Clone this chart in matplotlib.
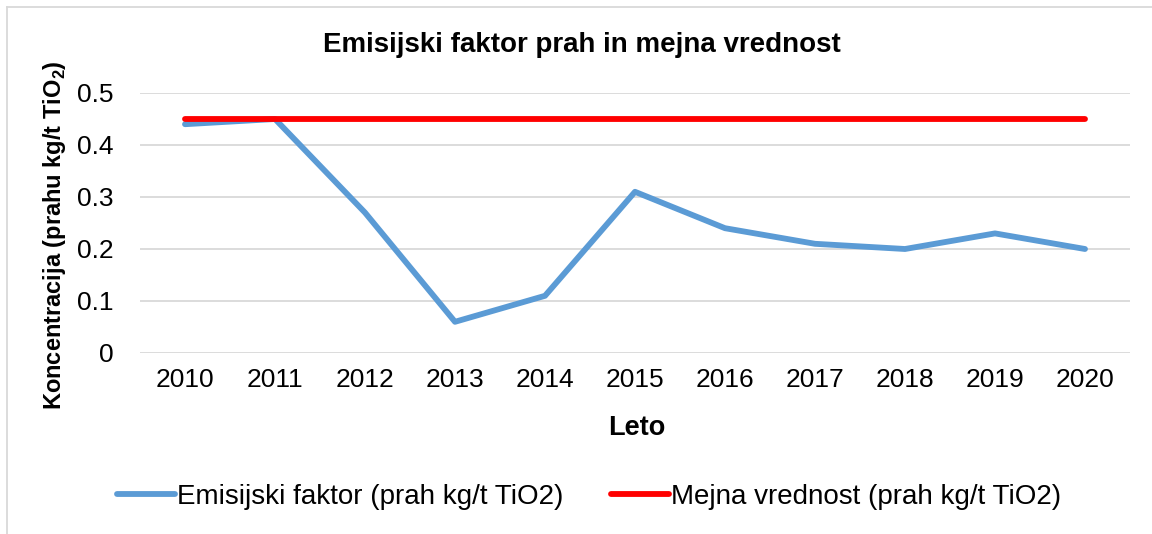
import matplotlib
matplotlib.use('Agg')
import matplotlib.pyplot as plt
from matplotlib.lines import Line2D
import numpy as np

plt.rcParams['font.family'] = ['Liberation Sans', 'DejaVu Sans']
plt.rcParams['mathtext.fontset'] = 'custom'
plt.rcParams['mathtext.rm'] = 'Liberation Sans'
plt.rcParams['mathtext.bf'] = 'Liberation Sans:bold'

# data
years = ['2010', '2011', '2012', '2013', '2014', '2015', '2016', '2017', '2018', '2019', '2020']
emission = [0.44, 0.45, 0.27, 0.06, 0.11, 0.31, 0.24, 0.21, 0.20, 0.23, 0.20]
limit = [0.45] * len(years)

W, H = 1152, 534
fig = plt.figure(figsize=(W / 100, H / 100), dpi=100)
ax = fig.add_axes([140 / W, 1 - 353 / H, 990 / W, 260 / H])

x = np.arange(len(years))
ax.plot(x, emission, color='#5B9BD5', lw=4.2, solid_capstyle='round', solid_joinstyle='round',
        label='Emisijski faktor (prah kg/t TiO2)', zorder=3)
ax.plot(x, limit, color='#FF0000', lw=4.2, solid_capstyle='round',
        label='Mejna vrednost (prah kg/t TiO2)', zorder=4)

ax.set_xlim(-0.5, len(years) - 0.5)
ax.set_ylim(0, 0.5)
ax.set_yticks([0, 0.1, 0.2, 0.3, 0.4, 0.5])
ax.set_yticklabels(['0', '0.1', '0.2', '0.3', '0.4', '0.5'])
ax.set_xticks(x)
ax.set_xticklabels(years)
ax.tick_params(axis='both', length=0, labelsize=19, colors='black')
ax.tick_params(axis='y', pad=19)
ax.tick_params(axis='x', pad=11)
ax.yaxis.grid(True, color='#D9D9D9', lw=1.3)
ax.set_axisbelow(True)
for s in ax.spines.values():
    s.set_visible(False)

fig.text(582 / W, 1 - 45 / H, 'Emisijski faktor prah in mejna vrednost',
         ha='center', va='center', fontsize=20, fontweight='bold')
fig.text(637 / W, 1 - 428 / H, 'Leto', ha='center', va='center', fontsize=19.5, fontweight='bold')
fig.text(55 / W, 1 - 235 / H, r'Koncentracija (prahu kg/t TiO$_\mathbf{2}$)',
         ha='center', va='center', rotation=90, fontsize=17, fontweight='bold')

ax.legend(loc='center', bbox_to_anchor=(589 / W, 1 - 497 / H), bbox_transform=fig.transFigure,
          ncol=2, frameon=False, fontsize=20, handlelength=2.1, handletextpad=0.08,
          columnspacing=1.7)

# chart frame (top and left edges visible)
fig.add_artist(Line2D([7 / W, 1], [1 - 7 / H, 1 - 7 / H], transform=fig.transFigure, color='#D9D9D9', lw=1.3))
fig.add_artist(Line2D([7 / W, 7 / W], [0, 1 - 7 / H], transform=fig.transFigure, color='#D9D9D9', lw=1.3))

fig.savefig('out.png', dpi=100)
